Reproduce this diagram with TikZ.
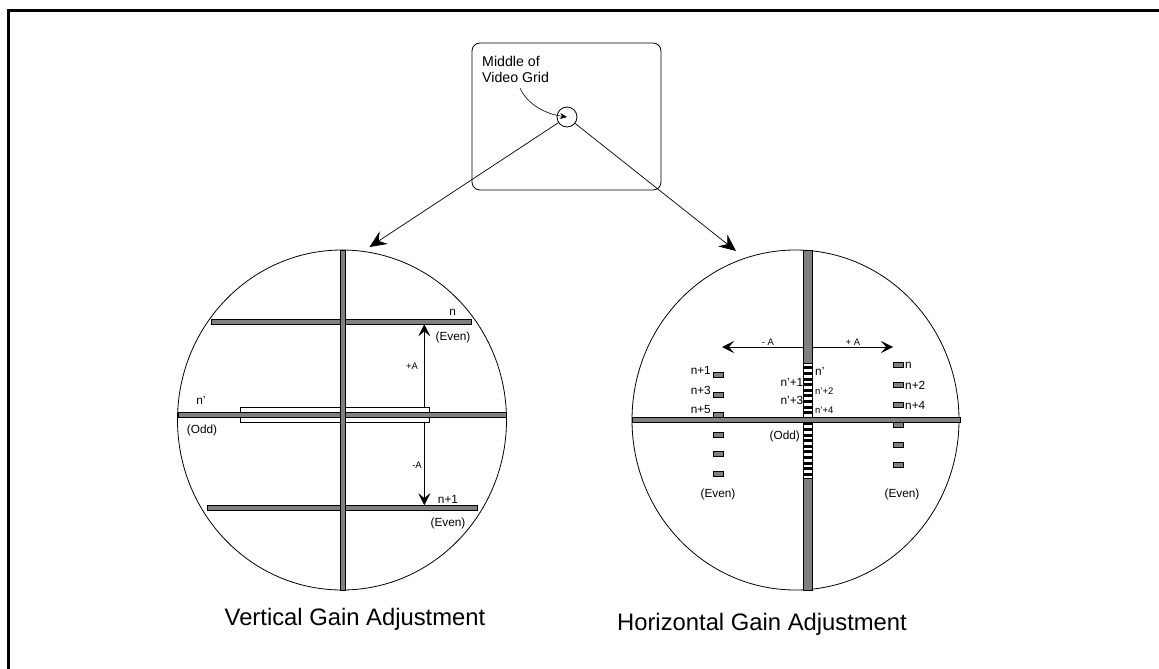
\documentclass[tikz,border=0pt]{standalone}
\usepackage{fontspec}
\setmainfont{Liberation Sans}
\usetikzlibrary{arrows.meta}
\definecolor{bargray}{RGB}{128,128,128}
\tikzset{
    bar/.style={rectangle, draw, fill=bargray, line width=.7pt, inner sep=0pt},
    dot/.style={bar, minimum width=10pt, minimum height=5pt},
    lbl/.style={font=\fontsize{11.8}{13}\selectfont, inner sep=0pt},
    sml/.style={font=\fontsize{9.5}{11}\selectfont, inner sep=0pt},
    caption/.style={font=\fontsize{23.8}{28}\selectfont, inner sep=0pt},
    gain/.style={-{Stealth[length=12pt,width=12pt,inset=5pt]}, line width=.7pt},
    big/.style={-{Stealth[length=17pt,width=15pt,inset=6pt]}, line width=.7pt}
}
\begin{document}
\begin{tikzpicture}[x=1pt, y=-1pt]
    \useasboundingbox (0,0) rectangle (1159,669);
    \draw[line width=2.6pt] (8.6,669) -- (8.6,10.6) -- (1159,10.6);
    % video grid
    \node[draw, rounded corners=8pt, line width=.8pt, minimum width=189pt, minimum height=147pt] (grid) at (566.5,116.5) {};
    \node[font=\fontsize{14.2}{16}\selectfont, align=left, anchor=west, inner sep=0pt] (note) at (482,69) {Middle of\\Video Grid};
    \node[circle, draw, line width=.8pt, minimum size=20pt, inner sep=0pt] (mid) at (567,117) {};
    \coordinate (tail) at (520,88);
    \coordinate (lin) at (369.5,247);
    \coordinate (rin) at (736,251);
    \draw[-{Stealth[length=7pt,width=6pt]}, line width=.6pt] (tail) .. controls (527,104) and (545,114) .. (mid.center);
    \draw[big] (mid) -- (lin);
    \draw[big] (mid) -- (rin);
    % vertical gain
    \draw[line width=.8pt] (342,420) ellipse [x radius=164.5, y radius=170];
    \node[draw, fill=white, line width=.7pt, inner sep=0pt, minimum width=189pt, minimum height=15pt] (oddbox) at (334.5,414.5) {};
    \node[bar, minimum width=260pt, minimum height=5pt] (ltop) at (341.8,321.5) {};
    \node[bar, minimum width=328pt, minimum height=5pt] (lmid) at (342,415) {};
    \node[bar, minimum width=270pt, minimum height=5pt] (lbot) at (342,508) {};
    \node[bar, minimum width=5.5pt, minimum height=340pt] (lvbar) at (343,420) {};
    \coordinate (ax) at (424.3,0);
    \draw[gain] (oddbox.north -| ax) -- (ltop.south -| ax);
    \draw[gain] (oddbox.south -| ax) -- (lbot.north -| ax);
    \path   node[lbl] (ln) at (452.7,312) {n}
            node[lbl] (lne) at (453,337) {(Even)}
            node[lbl] (lnp) at (201,400) {n'}
            node[lbl] (lodd) at (202,430) {(Odd)}
            node[lbl] (ln1) at (448,499) {n+1}
            node[lbl] (ln1e) at (448,523) {(Even)}
            node[sml] (lpa) at (412,366) {+A}
            node[sml] (lma) at (417,465) {-A};
    \node[caption] (vcap) at (355,619) {Vertical Gain Adjustment};
    % horizontal gain
    \draw[line width=.8pt] (795.5,420) ellipse [x radius=163.5, y radius=170];
    \node[bar, minimum width=9pt, minimum height=340pt] (rvbar) at (807.5,420) {};
    \node[draw, fill=white, line width=.7pt, inner sep=0pt, minimum width=9pt, minimum height=115pt] (ladder) at (807.5,420.5) {};
    \foreach \k in {0,...,19}
        \fill (803,366.3+\k*5.6) rectangle ++(9,3);
    \node[bar, minimum width=328pt, minimum height=5pt] (rhbar) at (796,419.5) {};
    \foreach \k in {0,...,5} {
        \node[dot] (e\k) at (718,375+\k*19.8) {};
        \node[dot] (o\k) at (898,365+\k*19.9) {};
    }
    \coordinate (rl) at (722,347);
    \coordinate (rr) at (893,347);
    \draw[gain] (rvbar.west |- rl) -- (rl);
    \draw[gain] (rvbar.east |- rr) -- (rr);
    \path   node[lbl, anchor=east] (en1) at (711,370) {n+1}
            node[lbl, anchor=east] (en3) at (711,390) {n+3}
            node[lbl, anchor=east] (en5) at (711,409) {n+5}
            node[lbl] (ee) at (718,494) {(Even)}
            node[lbl, anchor=west] (on) at (905,365) {n}
            node[lbl, anchor=west] (on2) at (905,385) {n+2}
            node[lbl, anchor=west] (on4) at (905,405) {n+4}
            node[lbl] (oe) at (902,494) {(Even)}
            node[lbl, anchor=west] (np) at (815,371) {n'}
            node[sml, anchor=west] (np2) at (815,391) {n'+2}
            node[sml, anchor=west] (np4) at (815,410) {n'+4}
            node[lbl, anchor=east] (np1) at (803.5,382) {n'+1}
            node[lbl, anchor=east] (np3) at (803.5,400) {n'+3}
            node[lbl, anchor=east] (rodd) at (800,436) {(Odd)}
            node[sml] (rma) at (768,342) {- A}
            node[sml] (rpa) at (853,342) {+ A};
    \node[caption] (hcap) at (762,624) {Horizontal Gain Adjustment};
\end{tikzpicture}
\end{document}
